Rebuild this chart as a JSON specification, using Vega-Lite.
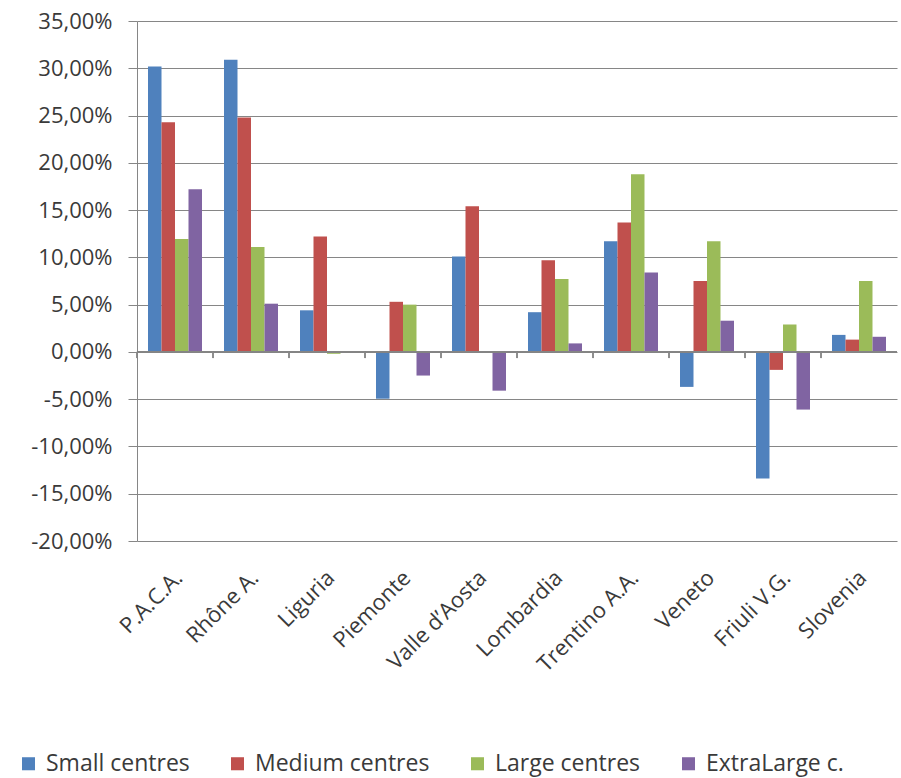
{
  "$schema": "https://vega.github.io/schema/vega-lite/v6.json",
  "width": 760,
  "height": 520,
  "autosize": {"type": "none"},
  "padding": {"left": 137, "top": 21, "right": 4, "bottom": 237},
  "background": "white",
  "config": {
    "view": {"stroke": null},
    "font": "Open Sans",
    "axis": {"labelFont": "Open Sans", "labelColor": "#3a3a3a"},
    "legend": {"labelFont": "Open Sans", "labelColor": "#3a3a3a"}
  },
  "data": {
    "values": [
      {"region": "P.A.C.A.", "series": "Small centres", "value": 0.302},
      {"region": "P.A.C.A.", "series": "Medium centres", "value": 0.243},
      {"region": "P.A.C.A.", "series": "Large centres", "value": 0.1195},
      {"region": "P.A.C.A.", "series": "ExtraLarge c.", "value": 0.172},
      {"region": "Rhône A.", "series": "Small centres", "value": 0.309},
      {"region": "Rhône A.", "series": "Medium centres", "value": 0.248},
      {"region": "Rhône A.", "series": "Large centres", "value": 0.111},
      {"region": "Rhône A.", "series": "ExtraLarge c.", "value": 0.051},
      {"region": "Liguria", "series": "Small centres", "value": 0.044},
      {"region": "Liguria", "series": "Medium centres", "value": 0.122},
      {"region": "Liguria", "series": "Large centres", "value": -0.002},
      {"region": "Liguria", "series": "ExtraLarge c.", "value": 0},
      {"region": "Piemonte", "series": "Small centres", "value": -0.0495},
      {"region": "Piemonte", "series": "Medium centres", "value": 0.053},
      {"region": "Piemonte", "series": "Large centres", "value": 0.05},
      {"region": "Piemonte", "series": "ExtraLarge c.", "value": -0.025},
      {"region": "Valle d’Aosta", "series": "Small centres", "value": 0.101},
      {"region": "Valle d’Aosta", "series": "Medium centres", "value": 0.154},
      {"region": "Valle d’Aosta", "series": "Large centres", "value": 0},
      {"region": "Valle d’Aosta", "series": "ExtraLarge c.", "value": -0.041},
      {"region": "Lombardia", "series": "Small centres", "value": 0.042},
      {"region": "Lombardia", "series": "Medium centres", "value": 0.097},
      {"region": "Lombardia", "series": "Large centres", "value": 0.077},
      {"region": "Lombardia", "series": "ExtraLarge c.", "value": 0.009},
      {"region": "Trentino A.A.", "series": "Small centres", "value": 0.117},
      {"region": "Trentino A.A.", "series": "Medium centres", "value": 0.137},
      {"region": "Trentino A.A.", "series": "Large centres", "value": 0.188},
      {"region": "Trentino A.A.", "series": "ExtraLarge c.", "value": 0.084},
      {"region": "Veneto", "series": "Small centres", "value": -0.037},
      {"region": "Veneto", "series": "Medium centres", "value": 0.075},
      {"region": "Veneto", "series": "Large centres", "value": 0.117},
      {"region": "Veneto", "series": "ExtraLarge c.", "value": 0.033},
      {"region": "Friuli V.G.", "series": "Small centres", "value": -0.134},
      {"region": "Friuli V.G.", "series": "Medium centres", "value": -0.019},
      {"region": "Friuli V.G.", "series": "Large centres", "value": 0.029},
      {"region": "Friuli V.G.", "series": "ExtraLarge c.", "value": -0.061},
      {"region": "Slovenia", "series": "Small centres", "value": 0.018},
      {"region": "Slovenia", "series": "Medium centres", "value": 0.013},
      {"region": "Slovenia", "series": "Large centres", "value": 0.075},
      {"region": "Slovenia", "series": "ExtraLarge c.", "value": 0.016}
    ]
  },
  "layer": [
    {
      "mark": {"type": "bar"},
      "encoding": {
        "x": {
          "field": "region", "type": "nominal", "sort": null,
          "scale": {"paddingInner": 0, "paddingOuter": 0},
          "axis": {"title": null, "domain": false, "ticks": false, "grid": false, "labelAngle": -45, "labelAlign": "right", "labelBaseline": "middle", "labelPadding": 33, "labelFontSize": 22, "labelOffset": 4}
        },
        "xOffset": {
          "field": "series", "type": "nominal",
          "sort": ["Small centres", "Medium centres", "Large centres", "ExtraLarge c."],
          "scale": {"paddingInner": 0, "paddingOuter": 0.815}
        },
        "y": {
          "field": "value", "type": "quantitative",
          "scale": {"domain": [-0.2, 0.35], "nice": false},
          "axis": {
            "title": null,
            "values": [-0.2, -0.15, -0.1, -0.05, 0, 0.05, 0.1, 0.15, 0.2, 0.25, 0.3, 0.35],
            "labelExpr": "replace(replace(format(datum.value, '.2%'), '.', ','), '−', '-')",
            "labelFontSize": 22,
            "labelPadding": 16,
            "domain": true, "domainColor": "#868686",
            "ticks": true, "tickSize": 9, "tickColor": "#868686",
            "grid": true, "gridColor": "#868686", "gridOpacity": 1
          }
        },
        "color": {
          "field": "series", "type": "nominal",
          "sort": ["Small centres", "Medium centres", "Large centres", "ExtraLarge c."],
          "scale": {
            "domain": ["Small centres", "Medium centres", "Large centres", "ExtraLarge c."],
            "range": ["#4F81BD", "#C0504D", "#9BBB59", "#8064A2"]
          },
          "legend": {
            "title": null, "orient": "none", "direction": "horizontal",
            "legendX": -120, "legendY": 731,
            "symbolType": "square", "symbolSize": 170, "symbolStrokeWidth": 0,
            "labelFontSize": 23, "labelOffset": 6, "columnPadding": 36, "labelLimit": 400
          }
        }
      }
    },
    {
      "mark": {"type": "rule", "color": "#868686", "strokeWidth": 1},
      "encoding": {"y": {"datum": 0}}
    },
    {
      "mark": {"type": "rule", "color": "#868686", "strokeWidth": 1},
      "encoding": {
        "x": {
          "field": "region", "type": "nominal", "sort": null, "bandPosition": 0,
          "axis": {"title": null, "domain": false, "ticks": false, "grid": false, "labelAngle": -45, "labelAlign": "right", "labelBaseline": "middle", "labelPadding": 33, "labelFontSize": 22, "labelOffset": 4}
        },
        "y": {"datum": 0},
        "y2": {"datum": -0.0065}
      }
    }
  ]
}
